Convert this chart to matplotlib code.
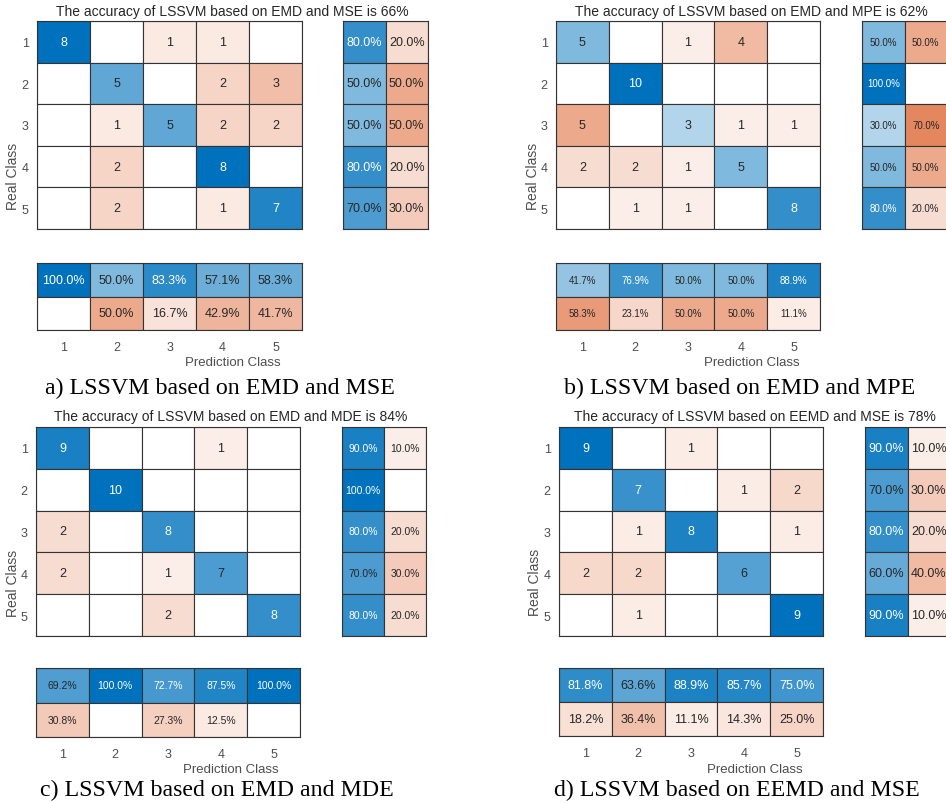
import numpy as np
import matplotlib
matplotlib.use("Agg")
import matplotlib.pyplot as plt
from matplotlib.patches import Rectangle

# ---------------- data ----------------
classes = ["1", "2", "3", "4", "5"]

titles = [
    "The accuracy of LSSVM based on EMD and MSE is 66%",
    "The accuracy of LSSVM based on EMD and MPE is 62%",
    "The accuracy of LSSVM based on EMD and MDE is 84%",
    "The accuracy of LSSVM based on EEMD and MSE is 78%",
]
captions = [
    "a) LSSVM based on EMD and MSE",
    "b) LSSVM based on EMD and MPE",
    "c) LSSVM based on EMD and MDE",
    "d) LSSVM based on EEMD and MSE",
]

cm_a = [[8, 0, 1, 1, 0], [0, 5, 0, 2, 3], [0, 1, 5, 2, 2], [0, 2, 0, 8, 0], [0, 2, 0, 1, 7]]
cm_b = [[5, 0, 1, 4, 0], [0, 10, 0, 0, 0], [5, 0, 3, 1, 1], [2, 2, 1, 5, 0], [0, 1, 1, 0, 8]]
cm_c = [[9, 0, 0, 1, 0], [0, 10, 0, 0, 0], [2, 0, 8, 0, 0], [2, 0, 1, 7, 0], [0, 0, 2, 0, 8]]
cm_d = [[9, 0, 1, 0, 0], [0, 7, 0, 1, 2], [0, 1, 8, 0, 1], [2, 2, 0, 6, 0], [0, 1, 0, 0, 9]]

row_correct_a = [80.0, 50.0, 50.0, 80.0, 70.0]
row_wrong_a = [20.0, 50.0, 50.0, 20.0, 30.0]
row_correct_b = [50.0, 100.0, 30.0, 50.0, 80.0]
row_wrong_b = [50.0, 0.0, 70.0, 50.0, 20.0]
row_correct_c = [90.0, 100.0, 80.0, 70.0, 80.0]
row_wrong_c = [10.0, 0.0, 20.0, 30.0, 20.0]
row_correct_d = [90.0, 70.0, 80.0, 60.0, 90.0]
row_wrong_d = [10.0, 30.0, 20.0, 40.0, 10.0]

col_correct_a = [100.0, 50.0, 83.3, 57.1, 58.3]
col_wrong_a = [0.0, 50.0, 16.7, 42.9, 41.7]
col_correct_b = [41.7, 76.9, 50.0, 50.0, 88.9]
col_wrong_b = [58.3, 23.1, 50.0, 50.0, 11.1]
col_correct_c = [69.2, 100.0, 72.7, 87.5, 100.0]
col_wrong_c = [30.8, 0.0, 27.3, 12.5, 0.0]
col_correct_d = [81.8, 63.6, 88.9, 85.7, 75.0]
col_wrong_d = [18.2, 36.4, 11.1, 14.3, 25.0]

# ---------------- style ----------------
BLUE = np.array([0, 114, 189]) / 255.0
ORANGE = np.array([217, 83, 25]) / 255.0
EDGE = "#333333"
DARK = "#262626"
TICK = "#4d4d4d"
SANS = ["Liberation Sans", "DejaVu Sans"]
SERIF = ["Liberation Serif", "DejaVu Serif"]

W, H = 946, 804
fig = plt.figure(figsize=(W / 100, H / 100), dpi=100)
fig.patch.set_facecolor("white")


def fx(x):
    return x / W


def fy(y):
    return 1 - y / H


def add_ax(x0, y0, x1, y1):
    return fig.add_axes([fx(x0), fy(y1), fx(x1) - fx(x0), (y1 - y0) / H])


def draw_cells(ax, values, intens, diag_mask, fmt, fs):
    values = np.asarray(values, dtype=float)
    nr, nc = values.shape
    for i in range(nr):
        for j in range(nc):
            t = intens[i][j]
            base = BLUE if diag_mask[i][j] else ORANGE
            col = 1 - t * (1 - base)
            ax.add_patch(Rectangle((j - 0.5, i - 0.5), 1, 1, facecolor=col,
                                   edgecolor=EDGE, linewidth=0.8))
            if values[i, j] > 0:
                ax.text(j, i, fmt(values[i, j]), ha="center", va="center",
                        fontsize=fs, family=SANS,
                        color="white" if t > 0.71 else DARK)
    ax.set_xlim(-0.5, nc - 0.5)
    ax.set_ylim(nr - 0.5, -0.5)
    for s in ax.spines.values():
        s.set_color(EDGE)
        s.set_linewidth(0.8)
    ax.set_xticks([])
    ax.set_yticks([])


panels = [
    dict(cm=cm_a, rc=row_correct_a, rw=row_wrong_a, cc=col_correct_a, cw=col_wrong_a,
         main=(37, 22, 302, 230), right=(343, 22, 428, 230), bottom=(37, 264, 302, 331), pfs=9,
         title_y=12, ticky=345, labely=363, cap=(220, 388), ylabx=13),
    dict(cm=cm_b, rc=row_correct_b, rw=row_wrong_b, cc=col_correct_b, cw=col_wrong_b,
         main=(556, 22, 820, 230), right=(862, 22, 947, 230), bottom=(556, 264, 820, 331), pfs=7,
         title_y=12, ticky=345, labely=363, cap=(740, 388), ylabx=533),
    dict(cm=cm_c, rc=row_correct_c, rw=row_wrong_c, cc=col_correct_c, cw=col_wrong_c,
         main=(36, 428, 300, 637), right=(342, 428, 426, 637), bottom=(36, 669, 300, 738), pfs=7.5,
         title_y=417, ticky=752, labely=770, cap=(217, 790), ylabx=13),
    dict(cm=cm_d, rc=row_correct_d, rw=row_wrong_d, cc=col_correct_d, cw=col_wrong_d,
         main=(559, 428, 823, 637), right=(865, 428, 950, 637), bottom=(559, 669, 823, 737), pfs=9,
         title_y=417, ticky=752, labely=770, cap=(737, 790), ylabx=535),
]

for k, p in enumerate(panels):
    cm = np.asarray(p["cm"], dtype=float)
    mx = cm.max()
    eye = np.eye(5, dtype=bool)

    # main matrix
    ax = add_ax(*p["main"])
    draw_cells(ax, cm, cm / mx, eye, lambda v: f"{int(v)}", 9)
    ax.set_yticks(range(5))
    ax.set_yticklabels(classes, fontsize=9, color=TICK, family=SANS)
    ax.tick_params(axis="y", length=0, pad=6)

    # right summary (row-normalised)
    rvals = np.column_stack([p["rc"], p["rw"]])
    ax_r = add_ax(*p["right"])
    rmask = np.column_stack([np.ones(5, bool), np.zeros(5, bool)])
    draw_cells(ax_r, rvals, rvals / 100.0, rmask, lambda v: f"{v:.1f}%", p["pfs"])

    # bottom summary (column-normalised)
    bvals = np.vstack([p["cc"], p["cw"]])
    ax_b = add_ax(*p["bottom"])
    bmask = np.vstack([np.ones(5, bool), np.zeros(5, bool)])
    draw_cells(ax_b, bvals, bvals / 100.0, bmask, lambda v: f"{v:.1f}%", p["pfs"])
    ax_b.set_xticks(range(5))
    ax_b.set_xticklabels(classes, fontsize=9, color=TICK, family=SANS)
    ax_b.tick_params(axis="x", length=0, pad=8)

    mx0, my0, mx1, my1 = p["main"]
    rx1 = p["right"][2]
    cx = (mx0 + rx1) / 2
    fig.text(fx(cx), fy(p["title_y"]), titles[k], ha="center", va="center",
             fontsize=10, family=SANS, color=DARK)
    fig.text(fx(cx), fy(p["labely"]), "Prediction Class", ha="center", va="center",
             fontsize=9.5, family=SANS, color=TICK)
    by1 = p["bottom"][3]
    fig.text(fx(p["ylabx"]), fy((my0 + by1) / 2), "Real Class", ha="center", va="center",
             rotation=90, fontsize=10, family=SANS, color=TICK)
    fig.text(fx(p["cap"][0]), fy(p["cap"][1]), captions[k], ha="center", va="center",
             fontsize=17.2, family=SERIF, color="black")

fig.savefig("out.png", dpi=100)
